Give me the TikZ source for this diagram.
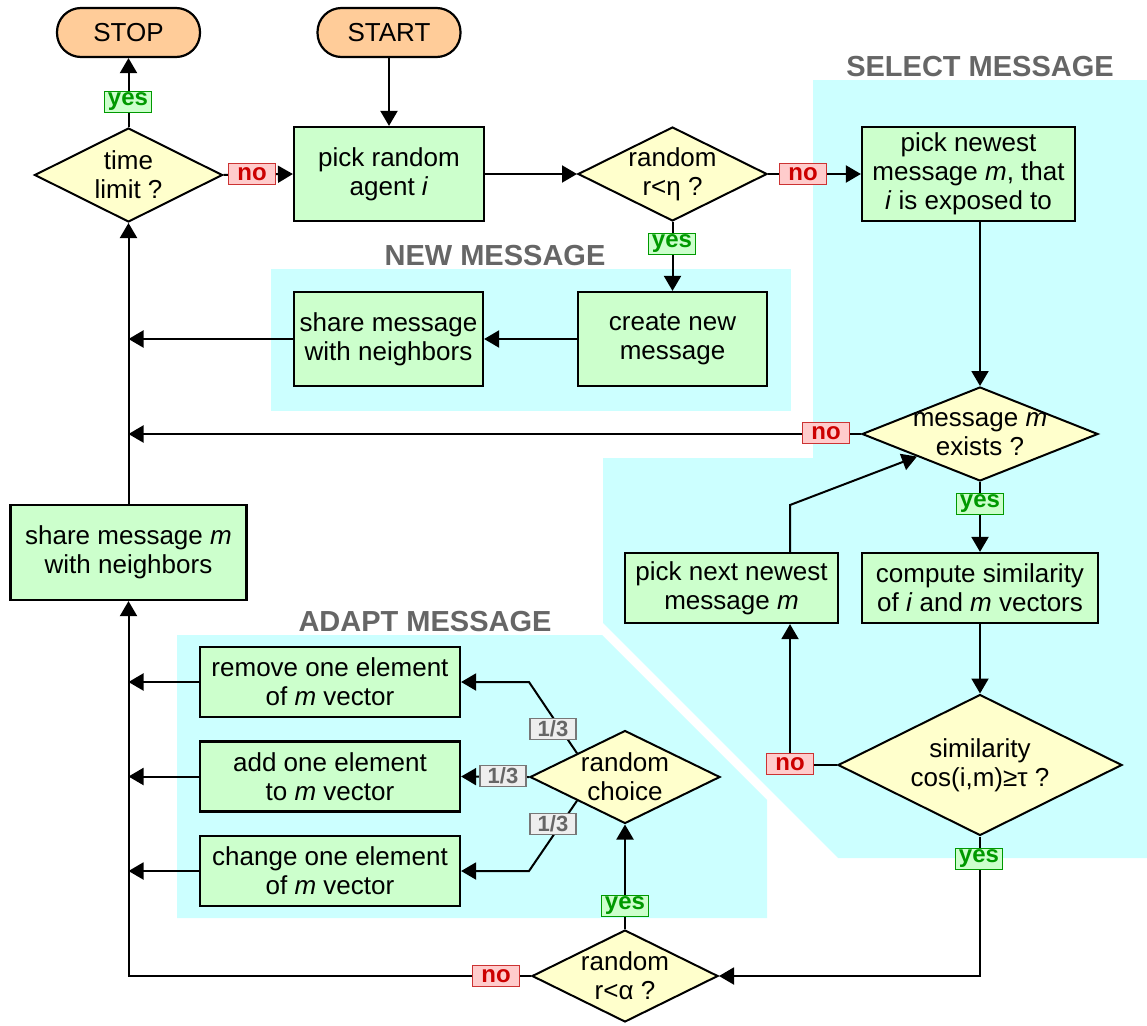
\documentclass[tikz,border=0pt]{standalone}
\usepackage{fontspec}
\setmainfont{Liberation Sans}
\usetikzlibrary{shapes.geometric,arrows.meta,calc}
\definecolor{bgc}{HTML}{CCFFFF}
\definecolor{boxg}{HTML}{CCFFCC}
\definecolor{diay}{HTML}{FFFFCC}
\definecolor{termc}{HTML}{FFCC99}
\definecolor{yesf}{HTML}{CCFFCC}
\definecolor{yesd}{HTML}{009900}
\definecolor{nof}{HTML}{FFCCCC}
\definecolor{nod}{HTML}{CC0000}
\definecolor{nob}{HTML}{CC3333}
\definecolor{thf}{HTML}{EEEEEE}
\definecolor{thb}{HTML}{777777}
\definecolor{ttlc}{HTML}{666666}
\begin{document}
\begin{tikzpicture}[x=1pt,y=-1pt,
  txt/.style={font=\fontsize{26}{29}\selectfont, align=center},
  proc/.style={txt, draw, fill=boxg, line width=2.2pt, inner sep=0pt},
  terminal/.style={txt, draw, fill=termc, line width=2.2pt, inner sep=0pt, rounded corners=24pt, minimum width=143pt, minimum height=49pt},
  dia/.style={draw, fill=diay, diamond, line width=2pt, inner sep=0pt},
  arr/.style={line width=2pt, -{Triangle[length=15pt,width=17pt]}},
  lab/.style={font=\fontsize{24}{24}\selectfont\bfseries, minimum height=21pt, inner sep=0pt, line width=1.2pt},
  yeslab/.style={lab, draw=yesd, fill=yesf, text=yesd, minimum width=47pt},
  nolab/.style={lab, draw=nob, fill=nof, text=nod, minimum width=47pt},
  thlab/.style={lab, font=\fontsize{22}{22}\selectfont\bfseries, draw=thb, fill=thf, text=ttlc, minimum width=46pt},
  ttl/.style={text=ttlc, font=\fontsize{29}{29}\selectfont\bfseries, inner sep=0pt}
]
\useasboundingbox (0,0) rectangle (1147,1025);

% background regions
\fill[bgc] (271,269) rectangle (791,411);
\fill[bgc] (813,80) -- (1147,80) -- (1147,858) -- (838,858) -- (603,623) -- (603,458) -- (813,458) -- cycle;
\fill[bgc] (177,635) -- (602,635) -- (767,800) -- (767,918) -- (177,918) -- cycle;

% titles
\node[ttl] (tnew) at (495,256) {NEW MESSAGE};
\node[ttl] (tsel) at (980,67) {SELECT MESSAGE};
\node[ttl] (tada) at (425,622) {ADAPT MESSAGE};

% nodes
\node[terminal] (stop) at (128.5,32.5) {STOP};
\node[terminal] (start) at (389,32.5) {START};
\node[dia, minimum width=188pt, minimum height=94pt, label={[txt]center:{time\\limit ?}}] (time) at (128.5,175) {};
\node[proc, minimum width=190pt, minimum height=94pt] (pick) at (389,174) {pick random\\agent \textit{i}};
\node[dia, minimum width=189pt, minimum height=94pt, label={[txt]center:{random\\r<η ?}}] (rand1) at (672.5,174) {};
\node[proc, minimum width=213pt, minimum height=94pt] (newest) at (968.5,174) {pick newest\\message \textit{m}, that\\\textit{i} is exposed to};
\node[proc, minimum width=189pt, minimum height=94pt] (create) at (672.5,339) {create new\\message};
\node[proc, minimum width=189pt, minimum height=94pt] (share1) at (388.5,339) {share message\\with neighbors};
\node[dia, minimum width=236pt, minimum height=94pt, label={[txt]center:{message \textit{m}\\exists ?}}] (exists) at (980,434) {};
\node[proc, minimum width=236pt, minimum height=70pt] (compute) at (980,588) {compute similarity\\of \textit{i} and \textit{m} vectors};
\node[proc, minimum width=213pt, minimum height=70pt] (pickNext) at (731.5,588) {pick next newest\\message \textit{m}};
\node[dia, minimum width=284pt, minimum height=141pt, label={[txt]center:{similarity\\cos(i,m)≥τ ?}}] (sim) at (980,765) {};
\node[dia, minimum width=186pt, minimum height=92pt, label={[txt]center:{random\\r<α ?}}] (rand2) at (625,976) {};
\node[dia, minimum width=190pt, minimum height=93pt, label={[txt]center:{random\\choice}}] (choice) at (625,777) {};
\node[proc, minimum width=260pt, minimum height=70pt] (remove) at (330,682) {remove one element\\of \textit{m} vector};
\node[proc, minimum width=260pt, minimum height=70pt] (add) at (330,776.5) {add one element\\to \textit{m} vector};
\node[proc, minimum width=260pt, minimum height=70pt] (change) at (330,871) {change one element\\of \textit{m} vector};
\node[proc, minimum width=236pt, minimum height=95pt] (shareM) at (128.5,552.5) {share message \textit{m}\\with neighbors};

% helper coordinates
\coordinate (c1) at (790,765);
\coordinate (c2) at (790,505);

% connectors
\draw[arr] (start.south) -- (pick.north);
\draw[arr] (time.north) -- (stop.south);
\draw[arr] (time.east) -- (pick.west);
\draw[arr] (pick.east) -- (rand1.west);
\draw[arr] (rand1.east) -- (newest.west);
\draw[arr] (rand1.south) -- (create.north);
\draw[arr] (create.west) -- (share1.east);
\draw[arr] (share1.west) -- (share1.west -| shareM.north);
\draw[arr] (newest.south -| exists.north) -- (exists.north);
\draw[arr] (exists.west) -- (exists.west -| shareM.north);
\draw[arr] (exists.south) -- (compute.north);
\draw[arr] (compute.south) -- (sim.north);
\draw[arr] (sim.west) -- (c1) -- (c1 |- pickNext.south);
\draw[arr] (c2 |- pickNext.north) -- (c2) -- ($(exists.west)!0.47!(exists.south)$);
\draw[arr] (sim.south) -- (sim.south |- rand2.east) -- (rand2.east);
\draw[arr] (rand2.north) -- (choice.south);
\draw[arr] (rand2.west) -- (rand2.west -| shareM.south) -- (shareM.south);
\draw[arr] (shareM.north) -- (time.south);
\draw[arr] ($(choice.west)!0.5!(choice.north)$) -- (choice.west |- remove.east) -- (remove.east);
\draw[arr] (choice.west) -- (add.east);
\draw[arr] ($(choice.west)!0.5!(choice.south)$) -- (choice.west |- change.east) -- (change.east);
\draw[arr] (remove.west) -- (remove.west -| shareM.south);
\draw[arr] (add.west) -- (add.west -| shareM.south);
\draw[arr] (change.west) -- (change.west -| shareM.south);

% connector labels
\node[yeslab] (y1) at (128,102) {yes};
\node[nolab] (n1) at (252,174) {no};
\node[nolab] (n2) at (803,174) {no};
\node[yeslab] (y2) at (672,244) {yes};
\node[nolab] (n3) at (826,433) {no};
\node[yeslab] (y3) at (980,504) {yes};
\node[nolab] (n4) at (790,764) {no};
\node[yeslab] (y4) at (979,859) {yes};
\node[nolab] (n5) at (496,976) {no};
\node[yeslab] (y5) at (625,906) {yes};
\node[thlab] (t1) at (553,729) {1/3};
\node[thlab] (t2) at (503,776) {1/3};
\node[thlab] (t3) at (553,824) {1/3};
\end{tikzpicture}
\end{document}
